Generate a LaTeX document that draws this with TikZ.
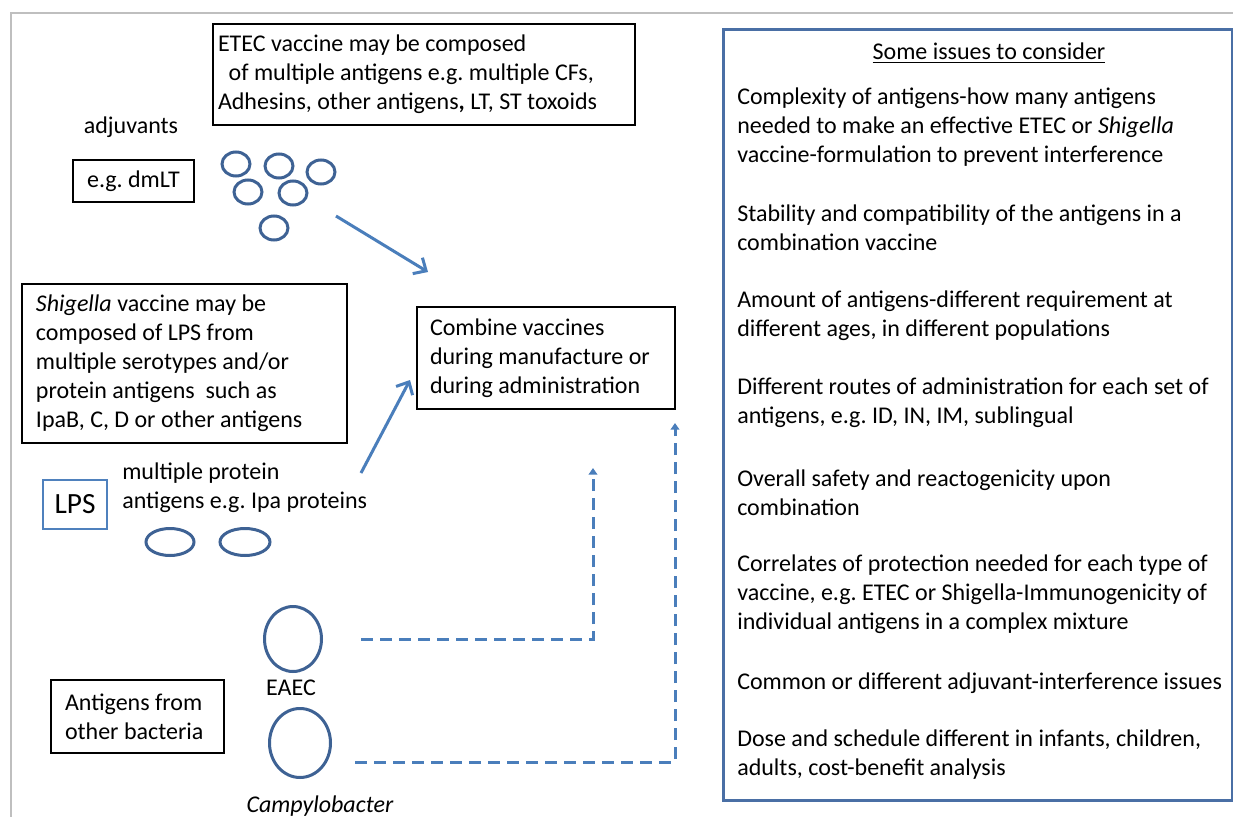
\documentclass[tikz,border=0pt]{standalone}
\usepackage{fontspec}
\setmainfont{Carlito}
\usetikzlibrary{shapes.geometric,arrows.meta,positioning}

\definecolor{framegray}{RGB}{191,191,191}
\definecolor{bugblue}{RGB}{62,98,148}
\definecolor{feedblue}{RGB}{74,126,187}
\definecolor{issueblue}{RGB}{74,111,165}
\definecolor{lpsblue}{RGB}{79,129,189}

\begin{document}
\begin{tikzpicture} [
    x=0.75pt, y=-0.75pt,
    font=\fontsize{18}{21.75}\selectfont\frenchspacing,
  ]

  \tikzstyle{txtbox} = [
    draw,
    line width=1.6pt,
    align=flush left,
    inner sep=0pt,
  ]
  \tikzstyle{bug} = [
    ellipse,
    draw=bugblue,
    line width=2.25pt,
    inner sep=0pt,
  ]
  \tikzstyle{item} = [
    anchor=west,
    align=left,
    inner sep=0pt,
  ]
  \tikzstyle{feed} = [
    draw=feedblue,
    line width=2.25pt,
    -{Straight Barb[length=7.5pt,width=14pt]},
  ]
  \tikzstyle{link} = [
    draw=feedblue,
    line width=2.25pt,
    dash pattern=on 9pt off 5.25pt,
    -{Triangle[length=5pt,width=6.5pt]},
  ]

  \useasboundingbox[fill=white] (0,0) rectangle (1233,817);
  \draw[framegray, line width=1.5pt] (1233,12.7) -| (11,817);

  % left side
  \node[txtbox, minimum width=316.5pt, minimum height=75.75pt, text width=309pt]
    (etec) at (424,74.5) {ETEC vaccine may be composed\\
    \hspace*{8pt}of multiple antigens e.g. multiple CFs,\\
    Adhesins, other antigens\textbf{,} LT, ST toxoids};
  \node (adj) at (131,127) {adjuvants};
  \node[txtbox, align=center, minimum width=90.75pt, minimum height=31.5pt]
    (dmlt) at (133.5,181) {e.g. dmLT};

  \node[bug, minimum width=21pt, minimum height=18pt] (adj1) at (236,164) {};
  \node[bug, minimum width=21pt, minimum height=18pt] (adj2) at (279,166) {};
  \node[bug, minimum width=21pt, minimum height=18pt] (adj3) at (321,172) {};
  \node[bug, minimum width=21pt, minimum height=18pt] (adj4) at (248,192) {};
  \node[bug, minimum width=21pt, minimum height=18pt] (adj5) at (293,193) {};
  \node[bug, minimum width=21pt, minimum height=18pt] (adj6) at (274,228) {};

  \node[txtbox, minimum width=243.75pt, minimum height=119.25pt, text width=222.75pt]
    (shig) at (184.5,363.5) {\textit{Shigella} vaccine may be\\
    composed of LPS from\\
    multiple serotypes and/or\\
    protein antigens\ \ such as\\
    IpaB, C, D or other antigens};

  \node[txtbox, minimum width=193.5pt, minimum height=76.5pt, text width=174pt]
    (combine) at (546,358) {Combine vaccines\\
    during manufacture or\\
    during administration};

  \node[draw=lpsblue, line width=1.1pt, minimum width=48pt, minimum height=36.75pt,
    font=\fontsize{22}{26}\selectfont] (lps) at (75,504.5) {LPS};
  \node[item] (ipa) at (122,487.5) {multiple protein\\antigens e.g. Ipa proteins};
  \node[bug, minimum width=36pt, minimum height=20.25pt] (ipa1) at (170,542) {};
  \node[bug, minimum width=37.5pt, minimum height=20.25pt] (ipa2) at (245,542) {};

  \node[bug, minimum width=42.75pt, minimum height=48.75pt] (eaec) at (293,639) {};
  \node (eaeclbl) at (291,688) {EAEC};
  \node[bug, minimum width=45.75pt, minimum height=51.75pt] (campy) at (300,743) {};
  \node (campylbl) at (320,806) {\textit{Campylobacter}};
  \node[txtbox, minimum width=129.75pt, minimum height=54.75pt, text width=108.75pt]
    (other) at (137.5,716.5) {Antigens from\\other bacteria};

  % arrows
  \coordinate (adjout)   at (336,216);
  \coordinate (adjin)    at (428,272);
  \coordinate (shigout)  at (361,473);
  \coordinate (shigin)   at (410,380);
  \coordinate (eaecout)  at (361,639);
  \coordinate (eaecin)   at (593,468);
  \coordinate (campyout) at (355,762);
  \coordinate (campyin)  at (675,423);

  \path[feed] (adjout) -- (adjin);
  \path[feed] (shigout) -- (shigin);
  \path[link] (eaecout) -| (eaecin);
  \path[link] (campyout) -| (campyin);

  % right side
  \node[draw=issueblue, line width=2.25pt, anchor=north west, inner sep=0pt,
    minimum width=381.75pt, minimum height=578.25pt] (issues) at (722,28) {};
  \node (issueshead) at (989,53) {\underline{Some issues to consider}};
  \node[item] (iss1) at (737,126.7) {Complexity of antigens-how many antigens\\
    needed to make an effective ETEC or \textit{Shigella}\\
    vaccine-formulation to prevent interference};
  \node[item] (iss2) at (737,228) {Stability and compatibility of the antigens in a\\
    combination vaccine};
  \node[item] (iss3) at (737,316) {Amount of antigens-different requirement at\\
    different ages, in different populations};
  \node[item] (iss4) at (737,403) {Different routes of administration for each set of\\
    antigens, e.g. ID, IN, IM, sublingual};
  \node[item] (iss5) at (737,492.5) {Overall safety and reactogenicity upon\\
    combination};
  \node[item] (iss6) at (737,594) {Correlates of protection needed for each type of\\
    vaccine, e.g. ETEC or Shigella-Immunogenicity of\\
    individual antigens in a complex mixture};
  \node[item] (iss7) at (737,683) {Common or different adjuvant-interference issues};
  \node[item] (iss8) at (737,755) {Dose and schedule different in infants, children,\\
    adults, cost-benefit analysis};

\end{tikzpicture}
\end{document}
